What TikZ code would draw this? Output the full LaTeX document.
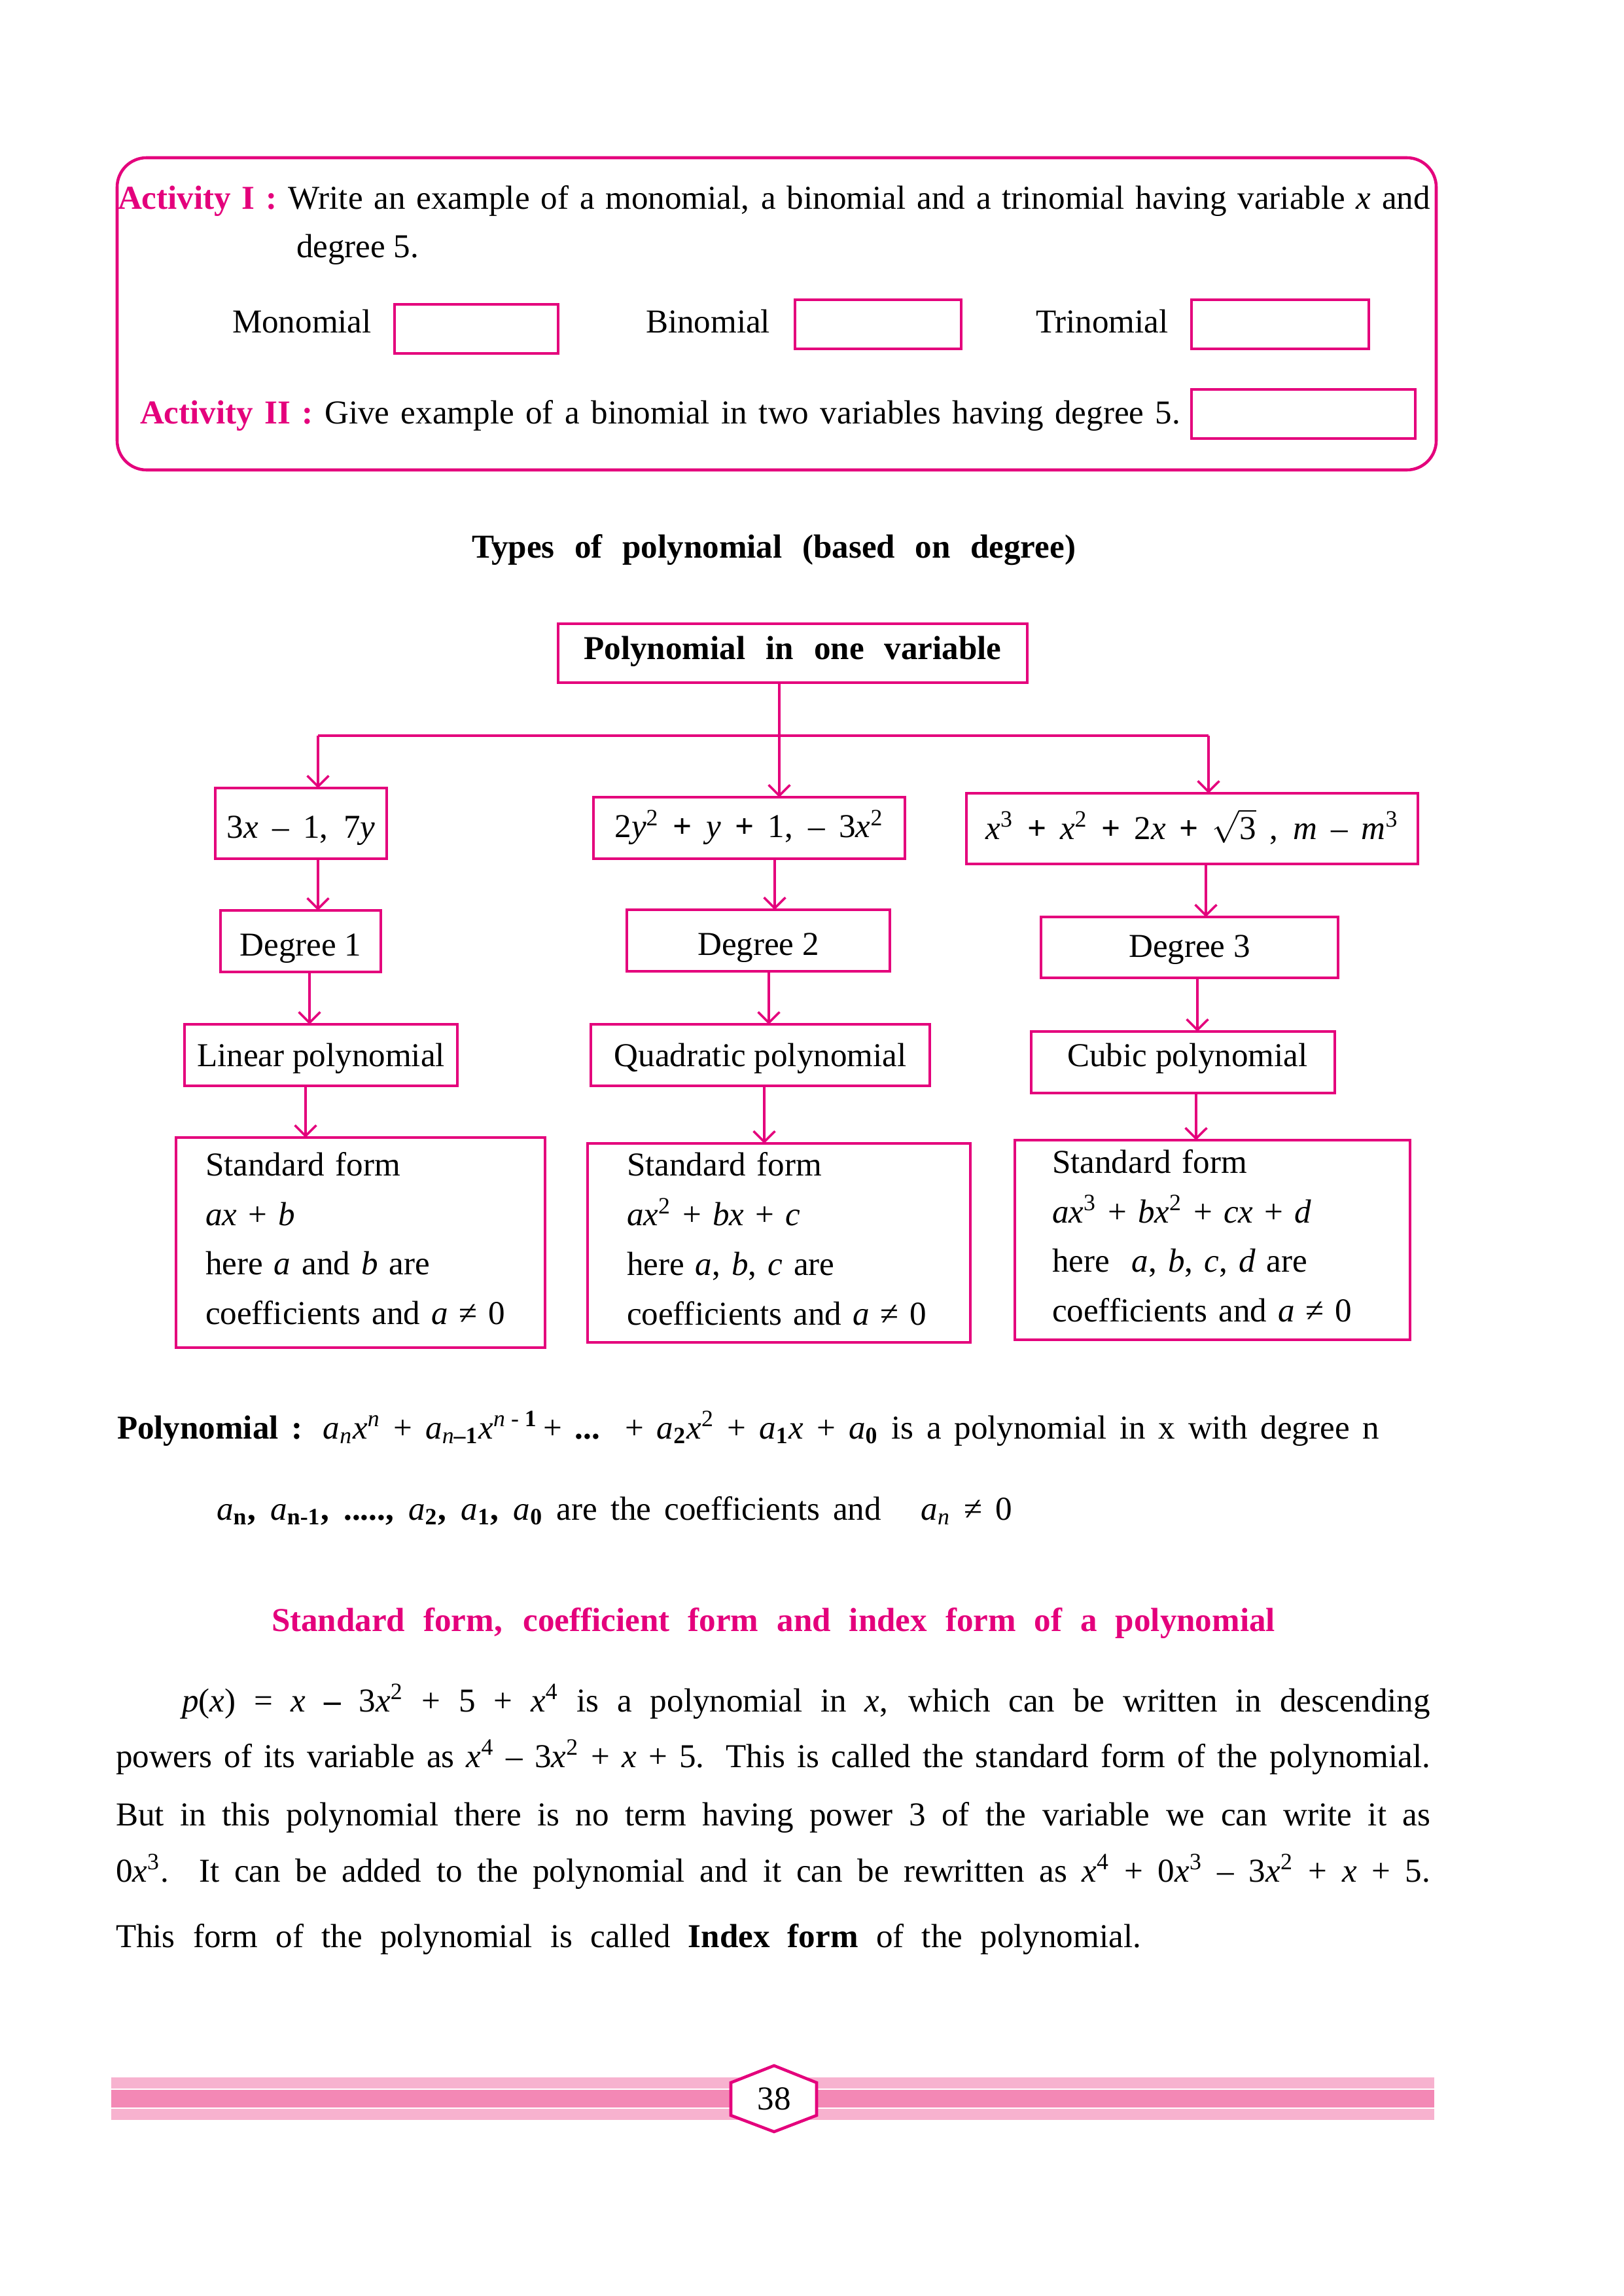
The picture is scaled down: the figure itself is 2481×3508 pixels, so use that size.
\documentclass[tikz,border=0pt]{standalone}
\usepackage{fontspec}
\usepackage{graphicx}
\setmainfont{Liberation Serif}
\usetikzlibrary{arrows.meta}
\definecolor{mag}{RGB}{228,0,124}
\definecolor{pinkL}{RGB}{247,178,207}
\definecolor{pinkD}{RGB}{243,136,181}
\newlength\pxl
\setlength\pxl{0.0846433mm}
\newcommand\pxu{0.0846433mm}
\newsavebox\swbox
\newcommand\sw[2]{\sbox\swbox{#2}\ifdim\wd\swbox>#1\pxl\relax\resizebox{#1\pxl}{\height}{\usebox\swbox}\else\makebox[#1\pxl][s]{#2}\fi}
\newcommand\vi[1]{\textit{#1}}
\newcommand\sps[1]{\textsuperscript{#1}}
\newcommand\sbs[1]{\textsubscript{#1}}
\begin{document}
\begin{tikzpicture}[x=0.0846433mm, y=-0.0846433mm,
  every node/.style={font=\fontsize{12.3}{15}\selectfont, inner sep=0pt, outer sep=0pt},
  txt/.style={anchor=base west},
  fbox/.style={draw=mag, line width=1.1pt, rectangle, inner sep=0pt},
  bl/.style={text height=#1, text depth=0pt},
  sbox/.style={fbox, align=left, text height=5.6pt, font=\fontsize{12.3}{18.24}\selectfont},
  arr/.style={draw=mag, line width=0.85pt, -{Straight Barb[length=3.9pt,width=7.9pt]}},
  bar/.style={draw=mag, line width=1.1pt},
]
\useasboundingbox[fill=white] (0,0) rectangle (2481,3508);

% ---------- activity frame ----------
\node[fbox, rounded corners=3.8mm, minimum width=2016*\pxu, minimum height=477*\pxu] (actbox) at (1187,479.5) {};
\node[txt] (a1) at (180,319) {\sw{2006}{\textcolor{mag}{\textbf{Activity I :}} Write an example of a monomial, a binomial and a trinomial having variable \vi{x} and}};
\node[txt] (a2) at (453,393) {degree 5.};
\node[txt] (mono) at (355,508) {Monomial};
\node[fbox, minimum width=250*\pxu, minimum height=75*\pxu] (monobox) at (728,502.5) {};
\node[txt] (bino) at (987,508) {Binomial};
\node[fbox, minimum width=254*\pxu, minimum height=75*\pxu] (binobox) at (1342,495.5) {};
\node[txt] (trino) at (1583,508) {Trinomial};
\node[fbox, minimum width=271*\pxu, minimum height=75*\pxu] (tribox) at (1956.5,495.5) {};
\node[txt] (a3) at (214,647) {\sw{1590}{\textcolor{mag}{\textbf{Activity II :}} Give example of a binomial in two variables having degree 5.}};
\node[fbox, minimum width=342*\pxu, minimum height=75*\pxu] (a3box) at (1992,632.5) {};

% ---------- title ----------
\node[txt] (title) at (721,852) {\sw{923}{\textbf{Types of polynomial (based on degree)}}};

% ---------- flowchart ----------
\node[fbox, bl=4.8pt, minimum width=717*\pxu, minimum height=90*\pxu] (top) at (1211.5,998) {\sw{638}{\textbf{Polynomial in one variable}}};

\node[fbox, bl=10.6pt, minimum width=262*\pxu, minimum height=108*\pxu] (b1) at (460,1258) {\sw{227}{3\vi{x} – 1, 7\vi{y}}};
\node[fbox, bl=7.2pt, minimum width=476*\pxu, minimum height=94*\pxu] (b2) at (1145,1265) {\sw{411}{2\vi{y}\sps{2} \textbf{+} \vi{y} \textbf{+} 1, – 3\vi{x}\sps{2}}};
\node[fbox, bl=7.7pt, minimum width=690*\pxu, minimum height=108*\pxu] (b3) at (1822,1266) {\sw{631}{\vi{x}\sps{3} \textbf{+} \vi{x}\sps{2} \textbf{+} 2\vi{x} \textbf{+} $\sqrt{\mbox{3}}$ , \vi{m} – \vi{m}\sps{3}}};

\node[fbox, bl=10.6pt, minimum width=245*\pxu, minimum height=94*\pxu] (d1) at (459.5,1438) {Degree 1};
\node[fbox, bl=11pt, minimum width=402*\pxu, minimum height=94*\pxu] (d2) at (1159,1437) {Degree 2};
\node[fbox, bl=7pt, minimum width=454*\pxu, minimum height=93*\pxu] (d3) at (1818,1447.5) {Degree 3};

\node[fbox, bl=8.6pt, minimum width=417*\pxu, minimum height=94*\pxu] (l1) at (490.5,1612) {Linear polynomial};
\node[fbox, bl=8.6pt, minimum width=518*\pxu, minimum height=94*\pxu] (l2) at (1162,1612) {Quadratic polynomial};
\node[fbox, bl=2.9pt, minimum width=464*\pxu, minimum height=94*\pxu] (l3) at (1808,1623) {\hspace*{14\pxl}Cubic polynomial};

\node[sbox, minimum width=564*\pxu, minimum height=321*\pxu, inner xsep=45*\pxu, text width=474*\pxu] (s1) at (551,1898.5)
  {Standard form\\ \sw{143}{\vi{ax} + \vi{b}}\\ \sw{370}{here \vi{a} and \vi{b} are}\\ \sw{485}{coefficients and \vi{a} ≠ 0}};
\node[sbox, minimum width=585*\pxu, minimum height=304*\pxu, inner xsep=60*\pxu, text width=465*\pxu] (s2) at (1190.5,1899)
  {Standard form\\ \sw{274}{\vi{ax}\sps{2} + \vi{bx} + \vi{c}}\\ \sw{341}{here \vi{a}, \vi{b}, \vi{c} are}\\ \sw{491}{coefficients and \vi{a} ≠ 0}};
\node[sbox, minimum width=604*\pxu, minimum height=305*\pxu, inner xsep=57*\pxu, text width=490*\pxu] (s3) at (1853,1894.5)
  {Standard form\\ \sw{412}{\vi{ax}\sps{3} + \vi{bx}\sps{2} + \vi{cx} + \vi{d}}\\ \sw{417}{here \ \vi{a}, \vi{b}, \vi{c}, \vi{d} are}\\ \sw{491}{coefficients and \vi{a} ≠ 0}};

% connectors
\coordinate (jL) at (486,1124);
\coordinate (jM) at (1191,1124);
\coordinate (jR) at (1847,1124);
\coordinate (k1) at (486,0);  \coordinate (k2) at (1184,0); \coordinate (k3) at (1843,0);
\coordinate (m1) at (473,0);  \coordinate (m2) at (1175,0); \coordinate (m3) at (1830,0);
\coordinate (n1) at (467,0);  \coordinate (n2) at (1168,0); \coordinate (n3) at (1828,0);
\draw[bar] (jL) -- (jR);
\draw[arr] (top.south -| jM) -- (b2.north -| jM);
\draw[arr] (jL) -- (b1.north -| jL);
\draw[arr] (jR) -- (b3.north -| jR);
\draw[arr] (b1.south -| k1) -- (d1.north -| k1);
\draw[arr] (b2.south -| k2) -- (d2.north -| k2);
\draw[arr] (b3.south -| k3) -- (d3.north -| k3);
\draw[arr] (d1.south -| m1) -- (l1.north -| m1);
\draw[arr] (d2.south -| m2) -- (l2.north -| m2);
\draw[arr] (d3.south -| m3) -- (l3.north -| m3);
\draw[arr] (l1.south -| n1) -- (s1.north -| n1);
\draw[arr] (l2.south -| n2) -- (s2.north -| n2);
\draw[arr] (l3.south -| n3) -- (s3.north -| n3);

% ---------- polynomial definition ----------
\node[txt] (p1) at (179,2198) {\sw{1929}{\textbf{Polynomial :} \vi{a}\sbs{\vi{n}}\vi{x}\sps{\vi{n}} + \vi{a}\sbs{\vi{n}\textbf{–1}}\vi{x}\sps{\vi{n} - \textbf{1}}\,+ \textbf{...} + \vi{a}\sbs{\textbf{2}}\vi{x}\sps{2} + \vi{a}\sbs{\textbf{1}}\vi{x} + \vi{a}\sbs{\textbf{0}} is a polynomial in x with degree n}};
\node[txt] (p2) at (331,2322) {\sw{1216}{\vi{a}\sbs{\textbf{n}}\textbf{,} \vi{a}\sbs{\textbf{n-1}}\textbf{,} \textbf{.....,} \vi{a}\sbs{\textbf{2}}\textbf{,} \vi{a}\sbs{\textbf{1}}\textbf{,} \vi{a}\sbs{\textbf{0}} are the coefficients and \ \ \vi{a}\sbs{\vi{n}} ≠ 0}};

\node[txt] (head) at (415,2492) {\sw{1534}{\textcolor{mag}{\textbf{Standard form, coefficient form and index form of a polynomial}}}};

\node[txt] (q1) at (278,2615) {\sw{1908}{\vi{p}(\vi{x}) = \vi{x} \textbf{–} 3\vi{x}\sps{2} + 5 + \vi{x}\sps{4} is a polynomial in \vi{x}, which can be written in descending}};
\node[txt] (q2) at (177,2700) {\sw{2009}{powers of its variable as \vi{x}\sps{4} – 3\vi{x}\sps{2} + \vi{x} + 5. This is called the standard form of the polynomial.}};
\node[txt] (q3) at (177,2789) {\sw{2009}{But in this polynomial there is no term having power 3 of the variable we can write it as}};
\node[txt] (q4) at (177,2875) {\sw{2009}{0\vi{x}\sps{3}. It can be added to the polynomial and it can be rewritten as \vi{x}\sps{4} + 0\vi{x}\sps{3} – 3\vi{x}\sps{2} + \vi{x} + 5.}};
\node[txt] (q5) at (177,2975) {\sw{1567}{This form of the polynomial is called \textbf{Index form} of the polynomial.}};

% ---------- footer ----------
\fill[pinkL] (170,3174) rectangle (2192,3191);
\fill[pinkD] (170,3193) rectangle (2192,3220);
\fill[pinkL] (170,3222) rectangle (2192,3239);
\draw[mag, line width=1.1pt, fill=white] (1183,3156) -- (1248,3182) -- (1248,3232) -- (1183,3257) -- (1117,3232) -- (1117,3182) -- cycle;
\node (pg) at (1183,3207) {38};
\end{tikzpicture}
\end{document}
